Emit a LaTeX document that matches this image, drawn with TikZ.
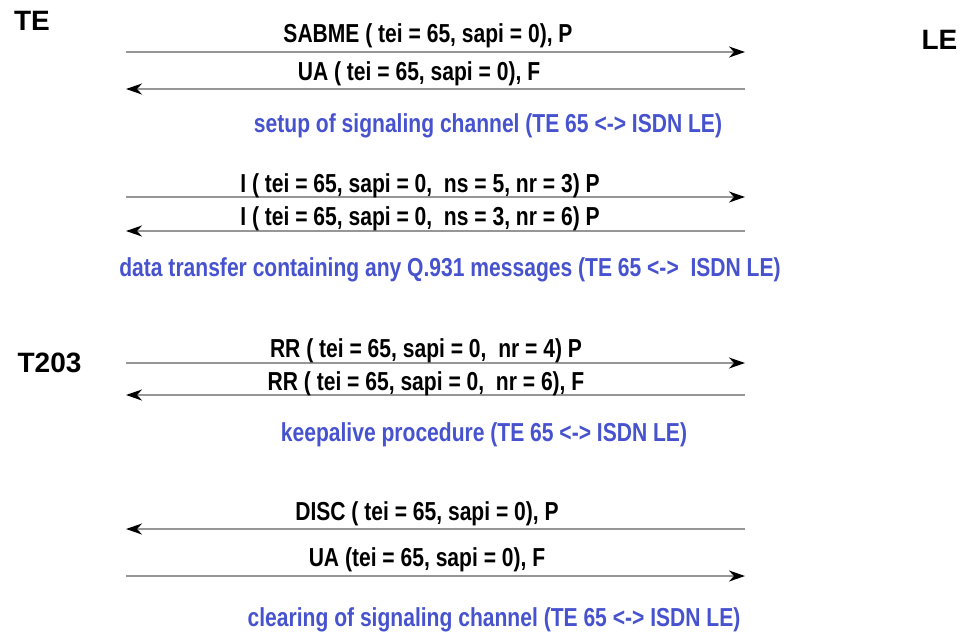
\documentclass[tikz,border=0pt]{standalone}
\usepackage{fontspec}
\setmainfont{Liberation Sans}
\newfontfamily\narrowfont[FakeStretch=0.81]{Liberation Sans}
\usepackage{tikz}
\usetikzlibrary{arrows.meta}

\definecolor{notecolor}{RGB}{70,82,206}
\definecolor{linecolor}{RGB}{150,150,150}

\tikzset{
    party/.style={inner sep=0pt, font=\fontsize{14}{16}\selectfont\bfseries},
    msg/.style={inner sep=0pt, anchor=base, font=\narrowfont\fontsize{13}{15}\selectfont\bfseries},
    note/.style={msg, text=notecolor},
    msgline/.style={linecolor, line width=0.9pt, -{Stealth[black, length=8pt, width=5.5pt, inset=2.5pt]}}
}

\begin{document}
\begin{tikzpicture}[x=0.5pt, y=-0.5pt]
    \useasboundingbox (0,0) rectangle (963,634);

    % the two sides
    \node[party] (te) at (32,21) {TE};
    \node[party] (le) at (939.5,40) {LE};
    \node[party] (t203) at (49.5,362.5) {T203};

    % ends of the message lines
    \coordinate (a1) at (126,52);  \coordinate (b1) at (745,52);
    \coordinate (a2) at (126,89);  \coordinate (b2) at (745,89);
    \coordinate (a3) at (126,197); \coordinate (b3) at (745,197);
    \coordinate (a4) at (126,231); \coordinate (b4) at (745,231);
    \coordinate (a5) at (126,363); \coordinate (b5) at (745,363);
    \coordinate (a6) at (126,395); \coordinate (b6) at (745,395);
    \coordinate (a7) at (126,529); \coordinate (b7) at (745,529);
    \coordinate (a8) at (126,576); \coordinate (b8) at (745,576);

    % draws messages
    \draw[msgline] (a1) -- (b1);
    \draw[msgline] (b2) -- (a2);
    \draw[msgline] (a3) -- (b3);
    \draw[msgline] (b4) -- (a4);
    \draw[msgline] (a5) -- (b5);
    \draw[msgline] (b6) -- (a6);
    \draw[msgline] (b7) -- (a7);
    \draw[msgline] (a8) -- (b8);

    % labels messages
    \node[msg] (sabme) at (428,42) {SABME ( tei = 65, sapi = 0), P};
    \node[msg] (ua1) at (419,80) {UA ( tei = 65, sapi = 0), F};
    \node[msg] (i1) at (420,192) {I ( tei = 65, sapi = 0,\ \ ns = 5, nr = 3) P};
    \node[msg] (i2) at (420,225) {I ( tei = 65, sapi = 0,\ \ ns = 3, nr = 6) P};
    \node[msg] (rr1) at (426,357) {RR ( tei = 65, sapi = 0,\ \ nr = 4) P};
    \node[msg] (rr2) at (426,390) {RR ( tei = 65, sapi = 0,\ \ nr = 6), F};
    \node[msg] (disc) at (427,520) {DISC ( tei = 65, sapi = 0), P};
    \node[msg] (ua2) at (427,566) {UA (tei = 65, sapi = 0), F};

    % phases
    \node[note] (setup) at (488,132) {setup of signaling channel (TE 65 <-> ISDN LE)};
    \node[note] (data) at (450,276) {data transfer containing any Q.931 messages (TE 65 <->\ \ ISDN LE)};
    \node[note] (keep) at (484,441) {keepalive procedure (TE 65 <-> ISDN LE)};
    \node[note] (clear) at (494,626) {clearing of signaling channel (TE 65 <-> ISDN LE)};
\end{tikzpicture}
\end{document}
